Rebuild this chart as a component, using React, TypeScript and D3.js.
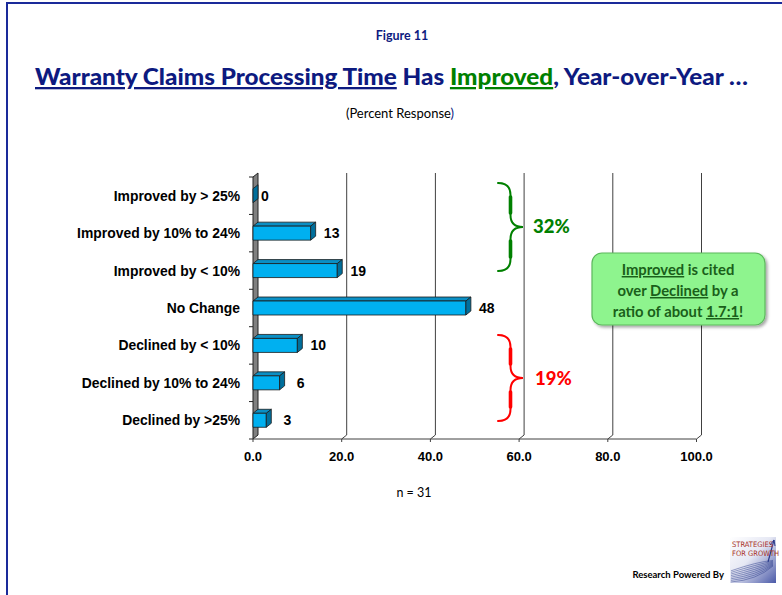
import React from "react";
import * as d3 from "d3";

const categories = [
  "Improved by > 25%",
  "Improved by 10% to 24%",
  "Improved by < 10%",
  "No Change",
  "Declined by < 10%",
  "Declined by 10% to 24%",
  "Declined by >25%",
];
const values = [0, 13, 19, 48, 10, 6, 3];
const ticks = [0, 20, 40, 60, 80, 100];
const tickLabels = ["0.0", "20.0", "40.0", "60.0", "80.0", "100.0"];
const groupLabels = ["32%", "19%"];

const W = 782, H = 595;
const DX = 5, DY = -4;

function bracePath(x1: number, x2: number, y1: number, y2: number, ym: number) {
  const xc = (x1 + x2) / 2;
  const q = 12;
  return `M${x1},${y1} Q${xc},${y1} ${xc},${y1 + q} L${xc},${ym - q} Q${xc},${ym} ${x2},${ym} Q${xc},${ym} ${xc},${ym + q} L${xc},${y2 - q} Q${xc},${y2} ${x1},${y2}`;
}

function Brace({ x1, x2, y1, y2, ym, color }: { x1: number; x2: number; y1: number; y2: number; ym: number; color: string }) {
  const xc = (x1 + x2) / 2;
  const q = 12;
  return (
    <g fill="none" stroke={color} strokeLinecap="round">
      <path d={bracePath(x1, x2, y1, y2, ym)} strokeWidth={2} />
      <line x1={xc} x2={xc} y1={y1 + q + 2} y2={ym - q - 2} strokeWidth={3.6} />
      <line x1={xc} x2={xc} y1={ym + q + 2} y2={y2 - q - 2} strokeWidth={3.6} />
    </g>
  );
}

export default function App() {
  const x = d3.scaleLinear().domain([0, 100]).range([253, 696.5]);
  const y = d3.scaleBand<string>().domain(categories).range([177, 439]);
  const bh = 14;
  const navy = "#0d1a80";
  const green = "#008000";
  const calFont = "Lato, 'Open Sans', sans-serif";
  const arial = "'Liberation Sans', Arial, sans-serif";
  const x0 = x(0);
  const yTop = y.range()[0];
  const yBot = y.range()[1];

  return (
    <svg width={W} height={H} style={{ position: "absolute", left: 0, top: 0, background: "#fff" }}>
      <defs>
        <filter id="sh" x="-20%" y="-20%" width="140%" height="150%">
          <feDropShadow dx="2" dy="2" stdDeviation="1.5" floodColor="#000" floodOpacity="0.35" />
        </filter>
        <linearGradient id="logoG" x1="0" y1="0" x2="1" y2="1">
          <stop offset="0" stopColor="#ffffff" />
          <stop offset="0.45" stopColor="#e6e8f4" />
          <stop offset="1" stopColor="#4b5aa8" />
        </linearGradient>
      </defs>
      {/* frame */}
      <rect x={7} y={3} width={800} height={620} fill="none" stroke="#1a2a9a" strokeWidth={2} />

      {/* titles */}
      <text x={402} y={40} textAnchor="middle" fontFamily={calFont} fontWeight="bold" fontSize={12.5} fill={navy}>Figure 11</text>
      <text x={35} y={85} fontFamily={calFont} fontWeight="900" fontSize={23} fill={navy} textLength={713} lengthAdjust="spacingAndGlyphs">
        <tspan style={{ textDecoration: "underline" }}>Warranty Claims Processing Time</tspan>
        <tspan> Has </tspan>
        <tspan fill={green} style={{ textDecoration: "underline" }}>Improved</tspan>
        <tspan>, Year-over-Year …</tspan>
      </text>
      <text x={400} y={118} textAnchor="middle" fontFamily={calFont} fontSize={13} fill="#000">
        (Percent Response<tspan fill={navy}>)</tspan>
      </text>

      {/* back gridlines */}
      {ticks.slice(1).map((t) => (
        <path key={t} d={`M${x(t) + DX},${yTop + DY} L${x(t) + DX},${yBot + DY} L${x(t)},${yBot}`} fill="none" stroke="#404040" strokeWidth={1} />
      ))}
      {/* left wall */}
      <path d={`M${x0},${yTop} L${x0 + DX},${yTop + DY} L${x0 + DX},${yBot + DY} L${x0},${yBot} Z`} fill="#808080" stroke="#222" strokeWidth={1} />
      {/* floor front axis */}
      <line x1={x0} x2={x(100)} y1={yBot} y2={yBot} stroke="#404040" strokeWidth={1} />
      {ticks.map((t) => (
        <line key={t} x1={x(t)} x2={x(t)} y1={yBot} y2={yBot + 3} stroke="#404040" />
      ))}
      {tickLabels.map((l, i) => (
        <text key={l} x={x(ticks[i])} y={461} textAnchor="middle" fontFamily={arial} fontWeight="bold" fontSize={13} fill="#000">{l}</text>
      ))}
      {/* category ticks */}
      {categories.concat([""]).map((c, i) => {
        const yy = yTop + i * y.step();
        return <line key={i} x1={x0 - 4} x2={x0} y1={yy} y2={yy} stroke="#222" />;
      })}
      {categories.map((c) => (
        <text key={c} x={240} y={(y(c) as number) + y.bandwidth() / 2 + 5} textAnchor="end" fontFamily={arial} fontWeight="bold" fontSize={13.9} fill="#000">{c}</text>
      ))}

      {/* bars */}
      {categories.map((c, i) => {
        const cy = (y(c) as number) + y.bandwidth() / 2;
        const t = cy - bh / 2, b = cy + bh / 2;
        const xe = x(values[i]);
        return (
          <g key={c} stroke="#1a1a1a" strokeWidth={0.8} strokeLinejoin="round">
            {values[i] > 0 && (
              <>
                <path d={`M${x0},${t} L${x0 + DX},${t + DY} L${xe + DX},${t + DY} L${xe},${t} Z`} fill="#0a8fc4" />
                <rect x={x0} y={t} width={xe - x0} height={bh} fill="#00b0f0" />
              </>
            )}
            <path d={`M${xe},${t} L${xe + DX},${t + DY} L${xe + DX},${b + DY} L${xe},${b} Z`} fill="#006f9c" />
          </g>
        );
      })}
      {categories.map((c, i) => {
        const cy = (y(c) as number) + y.bandwidth() / 2;
        return (
          <text key={c} x={x(values[i]) + (values[i] > 0 ? 21 : 12)} y={cy + 5} textAnchor="middle" fontFamily={arial} fontWeight="bold" fontSize={14} fill="#000">{values[i]}</text>
        );
      })}

      {/* braces */}
      <Brace x1={498} x2={523} y1={183} y2={271} ym={227} color={green} />
      <text x={533} y={233} fontFamily={calFont} fontWeight="900" fontSize={18.5} fill={green}>{groupLabels[0]}</text>
      <Brace x1={498} x2={523} y1={335} y2={421} ym={378} color="#ff0000" />
      <text x={535} y={385} fontFamily={calFont} fontWeight="900" fontSize={18.5} fill="#ff0000">{groupLabels[1]}</text>

      {/* callout */}
      <rect x={592} y={253} width={173} height={72} rx={10} ry={10} fill="#8ef48e" stroke="#5cb85c" strokeWidth={1.2} filter="url(#sh)" />
      <g fontFamily={calFont} fontWeight="bold" fontSize={14.8} fill="#1a5f1a" textAnchor="middle">
        <text x={678} y={275}><tspan style={{ textDecoration: "underline" }}>Improved</tspan> is cited</text>
        <text x={678} y={296}>over <tspan style={{ textDecoration: "underline" }}>Declined</tspan> by a</text>
        <text x={678} y={317}>ratio of about <tspan style={{ textDecoration: "underline" }}>1.7:1</tspan>!</text>
      </g>

      {/* n */}
      <text x={414} y={497} textAnchor="middle" fontFamily={calFont} fontSize={12.5} fill="#000">n = 31</text>

      {/* footer */}
      <text x={724} y={578} textAnchor="end" fontFamily={calFont} fontWeight="bold" fontSize={9.5} fill="#000">Research Powered By</text>
      <g>
        <rect x={730} y={537} width={46} height={46} fill="url(#logoG)" />
        {[0, 1, 2, 3, 4, 5, 6, 7].map((k) => (
          <path key={k} d={`M${731},${582 - k * 1.6} Q${757},${580 - k * 2.6} ${773},${566 - k * 0.8}`} fill="none" stroke="#2a3a8a" strokeWidth={0.6} opacity={0.8} />
        ))}
        <path d="M768,562 L774,540" fill="none" stroke="#2a3a8a" strokeWidth={1.2} />
        <path d="M770,545 L774,540 L775,546" fill="none" stroke="#2a3a8a" strokeWidth={1} />
        <text x={732} y={547} fontFamily="'Liberation Sans Narrow', 'DejaVu Sans Condensed', sans-serif" fontSize={7.5} fill="#a8321f">STRATEGIES</text>
        <text x={732} y={556} fontFamily="'Liberation Sans Narrow', 'DejaVu Sans Condensed', sans-serif" fontSize={7.5} fill="#a8321f">FOR GROWTH</text>
      </g>
    </svg>
  );
}
